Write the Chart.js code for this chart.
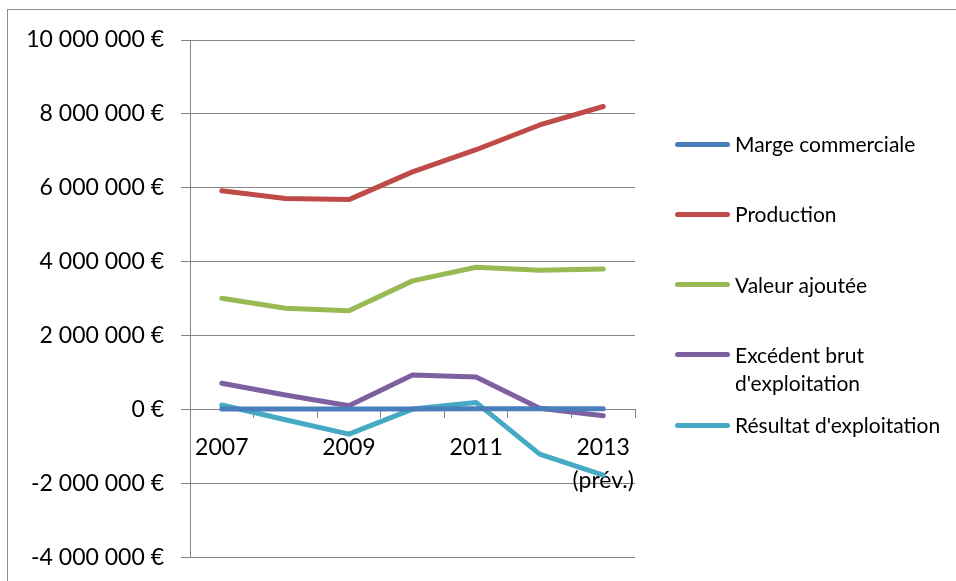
<!DOCTYPE html>
<html>
<head>
<meta charset="utf-8">
<script src="https://cdn.jsdelivr.net/npm/chart.js@4"></script>
<style>
  html, body { margin: 0; padding: 0; background: #fff; width: 956px; height: 581px; overflow: hidden; }
  #frame { position: absolute; left: 7px; top: 9px; width: 1000px; height: 700px; border-left: 1px solid #8e8e8e; border-top: 1px solid #8e8e8e; }
  #wrap { position: absolute; left: 0; top: 0; width: 956px; height: 588px; }
  #legend { position: absolute; left: 675px; top: 0; font-family: Lato, sans-serif; font-size: 21px; color: #000; }
  .item { position: absolute; left: 0; white-space: nowrap; }
  .swatch { position: absolute; left: 0; width: 55px; height: 5px; border-radius: 3px; }
  .label { position: absolute; left: 60px; line-height: 28px; }
</style>
</head>
<body>
<div id="frame"></div>
<div id="wrap"><canvas id="c" width="956" height="588"></canvas></div>
<div id="legend"></div>
<script>
const categories = ['2007', '2008', '2009', '2010', '2011', '2012', ['2013', '(prév.)']];
const margeCommerciale = [0.01e6, 0.01e6, 0.01e6, 0.01e6, 0.02e6, 0.02e6, 0.02e6];
const production = [5.92e6, 5.71e6, 5.68e6, 6.43e6, 7.03e6, 7.70e6, 8.20e6];
const valeurAjoutee = [3.01e6, 2.74e6, 2.67e6, 3.48e6, 3.85e6, 3.77e6, 3.80e6];
const excedentBrut = [0.71e6, 0.39e6, 0.10e6, 0.93e6, 0.88e6, 0.03e6, -0.17e6];
const resultatExploitation = [0.12e6, -0.28e6, -0.67e6, 0.01e6, 0.19e6, -1.21e6, -1.78e6];
const seriesNames = ['Marge commerciale', 'Production', 'Valeur ajoutée', ["Excédent brut", "d'exploitation"], "Résultat d'exploitation"];
const seriesColors = ['#4A7EBB', '#BE4B48', '#98B954', '#7D60A0', '#46AAC5'];
const yTicks = { min: -4000000, max: 10000000, step: 2000000 };

const seriesData = [margeCommerciale, production, valeurAjoutee, excedentBrut, resultatExploitation];

function fmtEuro(v) {
  const s = Math.abs(v).toFixed(0).replace(/\B(?=(\d{3})+(?!\d))/g, ' ');
  return (v < 0 ? '-' : '') + s + ' €';
}

const FONT = 'Lato, sans-serif';
const GRID = '#868686';

new Chart(document.getElementById('c'), {
  type: 'line',
  data: {
    labels: categories,
    datasets: seriesData.map((d, i) => ({
      label: Array.isArray(seriesNames[i]) ? seriesNames[i].join(' ') : seriesNames[i],
      data: d,
      borderColor: seriesColors[i],
      backgroundColor: seriesColors[i],
      borderWidth: 5,
      pointRadius: 0,
      tension: 0,
      borderCapStyle: 'round',
      borderJoinStyle: 'round'
    }))
  },
  options: {
    responsive: false,
    animation: false,
    layout: { padding: { left: 0, right: 321, top: 40, bottom: 17 } },
    plugins: { legend: { display: false }, tooltip: { enabled: false } },
    scales: {
      x: {
        position: { y: 0 },
        offset: true,
        grid: { display: true, drawOnChartArea: false, drawTicks: true, tickLength: 8, offset: true, color: GRID },
        border: { display: true, color: GRID, width: 1 },
        ticks: {
          autoSkip: false, maxRotation: 0, minRotation: 0, padding: 13,
          color: '#000', font: { family: FONT, size: 23, lineHeight: 1.45 },
          callback: function(val, idx) { return idx % 2 === 0 ? this.getLabelForValue(val) : ''; }
        }
      },
      y: {
        min: yTicks.min, max: yTicks.max,
        afterFit: (s) => { s.width = 190; },
        grid: { color: GRID, lineWidth: 1, tickLength: 9, drawTicks: true },
        border: { display: true, color: GRID, width: 1 },
        ticks: {
          stepSize: yTicks.step, padding: 17, color: '#000',
          font: { family: FONT, size: 23 },
          callback: (v) => fmtEuro(v)
        }
      }
    }
  }
});

const legend = document.getElementById('legend');
seriesNames.forEach((name, i) => {
  const cy = 144 + 70.3 * i;
  const item = document.createElement('div');
  item.className = 'item';
  item.style.top = (cy - 14) + 'px';
  const sw = document.createElement('div');
  sw.className = 'swatch';
  sw.style.background = seriesColors[i];
  sw.style.top = (14 - 2.5) + 'px';
  const lb = document.createElement('div');
  lb.className = 'label';
  lb.innerHTML = (Array.isArray(name) ? name : [name]).map(t => t.replace(/&/g,'&amp;').replace(/</g,'&lt;')).join('<br>');
  item.appendChild(sw);
  item.appendChild(lb);
  legend.appendChild(item);
});
</script>
</body>
</html>
